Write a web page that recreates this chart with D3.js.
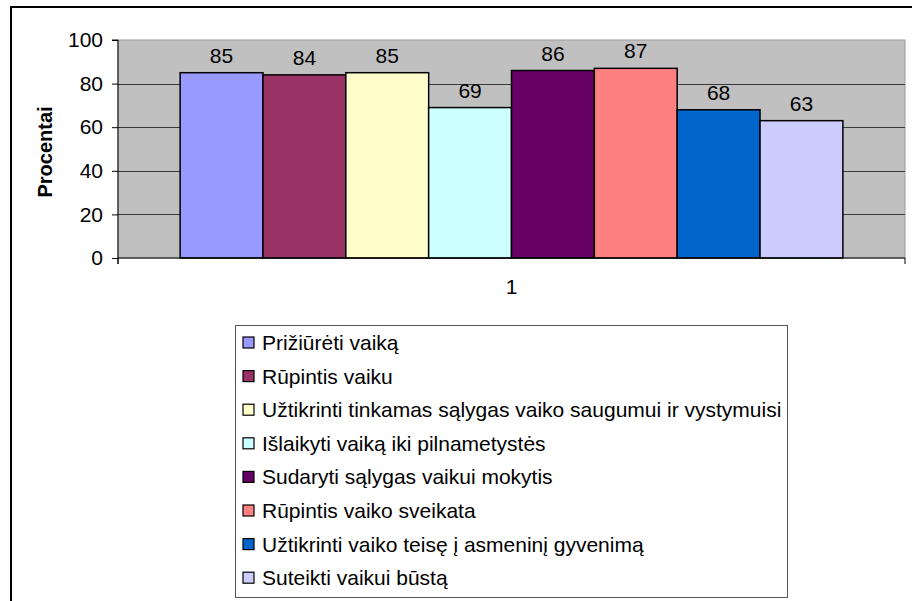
<!DOCTYPE html>
<html>
<head>
<meta charset="utf-8">
<script src="https://cdn.jsdelivr.net/npm/d3@7"></script>
<style>
  html, body { margin: 0; padding: 0; background: #fff; }
  svg { display: block; font-family: "Liberation Sans", Arial, sans-serif; }
</style>
</head>
<body>
<svg id="chart" width="912" height="601"></svg>
<script>
// ---- data ----
const categories = ["1"];
const seriesNames = [
  "Prižiūrėti vaiką",
  "Rūpintis vaiku",
  "Užtikrinti tinkamas sąlygas vaiko saugumui ir vystymuisi",
  "Išlaikyti vaiką iki pilnametystės",
  "Sudaryti sąlygas vaikui mokytis",
  "Rūpintis vaiko sveikata",
  "Užtikrinti vaiko teisę į asmeninį gyvenimą",
  "Suteikti vaikui būstą"
];
const seriesValues = [85, 84, 85, 69, 86, 87, 68, 63];
const seriesColors = ["#9999FF", "#993366", "#FFFFCC", "#CCFFFF", "#660066", "#FF8080", "#0066CC", "#CCCCFF"];
const yTicks = [0, 20, 40, 60, 80, 100];
const yTitle = "Procentai";

// ---- layout ----
const svg = d3.select("#chart");
const plot = { left: 118, right: 905, top: 40, bottom: 258 };
const fs = 21;

// outer frame (extends beyond view on right/bottom)
svg.append("path")
  .attr("d", "M11,612 L11,7 L925,7")
  .attr("fill", "none").attr("stroke", "#000").attr("stroke-width", 2);

const x0 = d3.scaleBand().domain(categories).range([plot.left, plot.right]);
const x1 = d3.scaleBand().domain(seriesNames).range([0, x0.bandwidth()])
  .paddingInner(0).paddingOuter(0.75);
const y = d3.scaleLinear().domain([0, 100]).range([plot.bottom, plot.top]);

// plot background
svg.append("rect")
  .attr("x", plot.left).attr("y", plot.top)
  .attr("width", plot.right - plot.left).attr("height", plot.bottom - plot.top)
  .attr("fill", "#C0C0C0").attr("stroke", "#9a9a9a").attr("stroke-width", 1);

// gridlines
svg.append("g").selectAll("line")
  .data(yTicks.filter(d => d > 0 && d < 100))
  .join("line")
  .attr("x1", plot.left).attr("x2", plot.right)
  .attr("y1", d => Math.round(y(d)) + 0.5).attr("y2", d => Math.round(y(d)) + 0.5)
  .attr("stroke", "#3a3a3a").attr("stroke-width", 1);

// bars
const data = seriesNames.map((n, i) => ({ name: n, value: seriesValues[i], color: seriesColors[i] }));
const g = svg.append("g").attr("transform", `translate(${x0(categories[0])},0)`);
g.selectAll("rect").data(data).join("rect")
  .attr("x", d => x1(d.name))
  .attr("y", d => y(d.value))
  .attr("width", x1.bandwidth())
  .attr("height", d => y(0) - y(d.value))
  .attr("fill", d => d.color)
  .attr("stroke", "#000").attr("stroke-width", 1.5);

// data labels
g.selectAll("text").data(data).join("text")
  .attr("x", d => x1(d.name) + x1.bandwidth() / 2)
  .attr("y", d => y(d.value) - 10)
  .attr("text-anchor", "middle")
  .attr("font-size", fs).attr("fill", "#000")
  .text(d => d.value);

// y axis
const yAxis = d3.axisLeft(y).tickValues(yTicks).tickSize(6).tickPadding(9);
const ya = svg.append("g").attr("transform", `translate(${plot.left},0)`).call(yAxis);
ya.select(".domain").attr("stroke", "#000").attr("d", `M-6,${plot.top}H0V${plot.bottom + 6}`);
ya.selectAll(".tick line").attr("stroke", "#000");
ya.selectAll(".tick text").attr("font-size", fs).attr("fill", "#000")
  .attr("font-family", "Liberation Sans, Arial, sans-serif");

// x axis
const xAxis = d3.axisBottom(x0).tickSize(0).tickPadding(21);
const xa = svg.append("g").attr("transform", `translate(0,${plot.bottom})`).call(xAxis);
xa.select(".domain").attr("stroke", "#000").attr("d", `M${plot.left},6V0H${plot.right}V6`);
xa.selectAll(".tick text").attr("font-size", fs).attr("fill", "#000")
  .attr("font-family", "Liberation Sans, Arial, sans-serif");

// y title
svg.append("text")
  .attr("transform", `translate(52,${(plot.top + plot.bottom) / 2 + 3}) rotate(-90)`)
  .attr("text-anchor", "middle")
  .attr("font-size", 20).attr("font-weight", "bold").attr("fill", "#000")
  .text(yTitle);

// legend
const leg = { x: 235, y: 325, w: 552, h: 272, rowStart: 342.5, rowStep: 33.6 };
svg.append("rect")
  .attr("x", leg.x + 0.5).attr("y", leg.y + 0.5)
  .attr("width", leg.w).attr("height", leg.h)
  .attr("fill", "#fff").attr("stroke", "#555").attr("stroke-width", 1);
const li = svg.append("g").selectAll("g").data(data).join("g")
  .attr("transform", (d, i) => `translate(${leg.x},${leg.rowStart + i * leg.rowStep})`);
li.append("rect")
  .attr("x", 8).attr("y", -5.5).attr("width", 11).attr("height", 11)
  .attr("fill", d => d.color).attr("stroke", "#000").attr("stroke-width", 1.2);
li.append("text")
  .attr("x", 27).attr("y", 0).attr("dy", "0.36em")
  .attr("font-size", fs).attr("fill", "#000")
  .text(d => d.name);
</script>
</body>
</html>
